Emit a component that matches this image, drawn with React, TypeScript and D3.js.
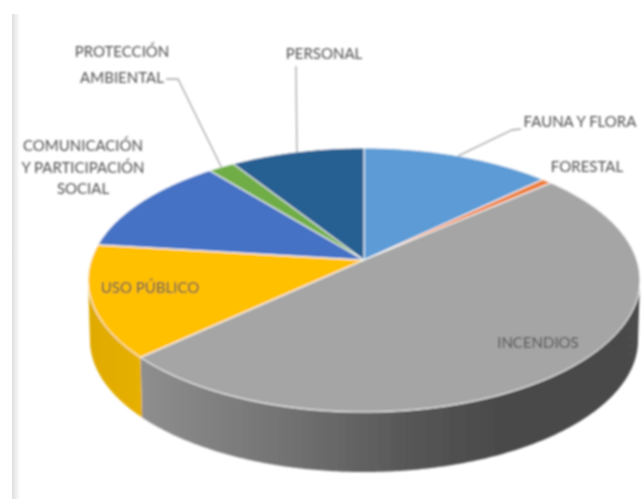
import React from 'react';
import * as d3 from 'd3';

const categories = ['FAUNA Y FLORA', 'FORESTAL', 'INCENDIOS', 'USO PÚBLICO', 'COMUNICACIÓN Y PARTICIPACIÓN SOCIAL', 'PROTECCIÓN AMBIENTAL', 'PERSONAL'];
const values = [12.9, 0.7, 49.6, 13.8, 12.2, 1.8, 9.1];
const colors = ['#5b9bd5', '#ed7d31', '#a5a5a5', '#ffc000', '#4472c4', '#70ad47', '#255e91'];
const wallColors = ['#3f6f9a', '#b05a20', 'url(#wallGray)', 'url(#wallYellow)', '#2f5597', '#507e32', '#1a4468'];

const width = 642;
const height = 499;

// the pie is tilted with some perspective, so the apex is not the ellipse centre
const apexX = 364;
const apexY = 260;
const scaleX = 272.8;
const scaleY = 129;
const tilt = -0.1515;
const depth = 60;

const project = (angle: number, r = 1, shrink = 1, drop = 0): [number, number] => {
  const u = Math.sin(angle) * r;
  const v = -Math.cos(angle) * r;
  const w = 1 + tilt * v;
  return [apexX + ((scaleX * u) / w) * shrink, apexY + (scaleY * v) / w + drop];
};

const arcPoints = (a0: number, a1: number, shrink = 1, drop = 0) => {
  const n = Math.max(2, Math.ceil(Math.abs(a1 - a0) / 0.01));
  return d3.range(n + 1).map((i) => project(a0 + ((a1 - a0) * i) / n, 1, shrink, drop));
};

const line = d3.line<[number, number]>();
const slices = d3.pie<number>().sort(null).value((d) => d)(values);

// only the front of the side wall can be seen
const wallStart = (98.7 * Math.PI) / 180;
const wallEnd = (261.3 * Math.PI) / 180;

const labelFont = 'Lato, "Open Sans", sans-serif';

const labels: { lines: string[]; x: number; y: number }[] = [
  { lines: ['PROTECCIÓN', 'AMBIENTAL'], x: 122, y: 57 },
  { lines: ['PERSONAL'], x: 324, y: 59 },
  { lines: ['FAUNA Y FLORA'], x: 580, y: 127 },
  { lines: ['FORESTAL'], x: 587, y: 172 },
  { lines: ['COMUNICACIÓN', 'Y PARTICIPACIÓN', 'SOCIAL'], x: 83, y: 151 },
  { lines: ['USO PÚBLICO'], x: 150, y: 293 },
  { lines: ['INCENDIOS'], x: 538, y: 348 },
];
const lineGaps = [26, 21.5];

// leader lines start on the slice edge, at the middle of the slice
const leaders: { slice: number; via: [number, number][] }[] = [
  { slice: 5, via: [[178, 79], [166, 79]] },
  { slice: 6, via: [[296, 66]] },
  { slice: 0, via: [[512, 130], [521, 129]] },
];

export default function App() {
  return (
    <svg
      width={width}
      height={height}
      viewBox={`0 0 ${width} ${height}`}
      style={{ position: 'absolute', left: 0, top: 0, background: '#fff' }}
    >
      <defs>
        <linearGradient id="wallGray" gradientUnits="userSpaceOnUse" x1={142} x2={640} y1={0} y2={0}>
          <stop offset="0" stopColor="#8e8e8e" />
          <stop offset="0.3" stopColor="#717171" />
          <stop offset="0.55" stopColor="#555555" />
          <stop offset="0.75" stopColor="#484848" />
          <stop offset="1" stopColor="#4b4b4b" />
        </linearGradient>
        <linearGradient id="wallYellow" gradientUnits="userSpaceOnUse" x1={88} x2={142} y1={0} y2={0}>
          <stop offset="0" stopColor="#e0ab06" />
          <stop offset="1" stopColor="#e6b000" />
        </linearGradient>
        <linearGradient id="edge" x1="0" x2="1" y1="0" y2="0">
          <stop offset="0" stopColor="#dedede" />
          <stop offset="1" stopColor="#ffffff" />
        </linearGradient>
        <filter id="soft" x="-5%" y="-5%" width="110%" height="110%">
          <feGaussianBlur stdDeviation="0.9" />
        </filter>
      </defs>
      <rect width={width} height={height} fill="#fff" />
      <rect x={12} y={14} width={8} height={height - 14} fill="url(#edge)" />
      <g filter="url(#soft)">
        {slices.map((s, i) => {
          const a0 = Math.max(s.startAngle, wallStart);
          const a1 = Math.min(s.endAngle, wallEnd);
          if (a1 <= a0) return null;
          const pts = [...arcPoints(a0, a1), ...arcPoints(a1, a0, 0.993, depth)];
          return <path key={categories[i]} d={`${line(pts)}Z`} fill={wallColors[i]} />;
        })}
        {slices.map((s, i) => (
          <path
            key={categories[i]}
            d={`${line([[apexX, apexY], ...arcPoints(s.startAngle, s.endAngle)])}Z`}
            fill={colors[i]}
            stroke="#fff"
            strokeWidth={1}
            strokeLinejoin="round"
          />
        ))}
        {leaders.map((l) => {
          const s = slices[l.slice];
          const start = project((s.startAngle + s.endAngle) / 2);
          return (
            <path key={l.slice} d={line([start, ...l.via]) ?? ''} fill="none" stroke="#a6a6a6" strokeWidth={1.3} />
          );
        })}
        {labels.map((l) => (
          <text key={l.lines[0]} x={l.x} y={l.y} textAnchor="middle" fontFamily={labelFont} fontSize={15} fill="#4f4f4f">
            {l.lines.map((t, j) => (
              <tspan key={t} x={l.x} dy={j === 0 ? 0 : l.lines.length === 2 ? lineGaps[0] : lineGaps[1]}>
                {t}
              </tspan>
            ))}
          </text>
        ))}
      </g>
    </svg>
  );
}
